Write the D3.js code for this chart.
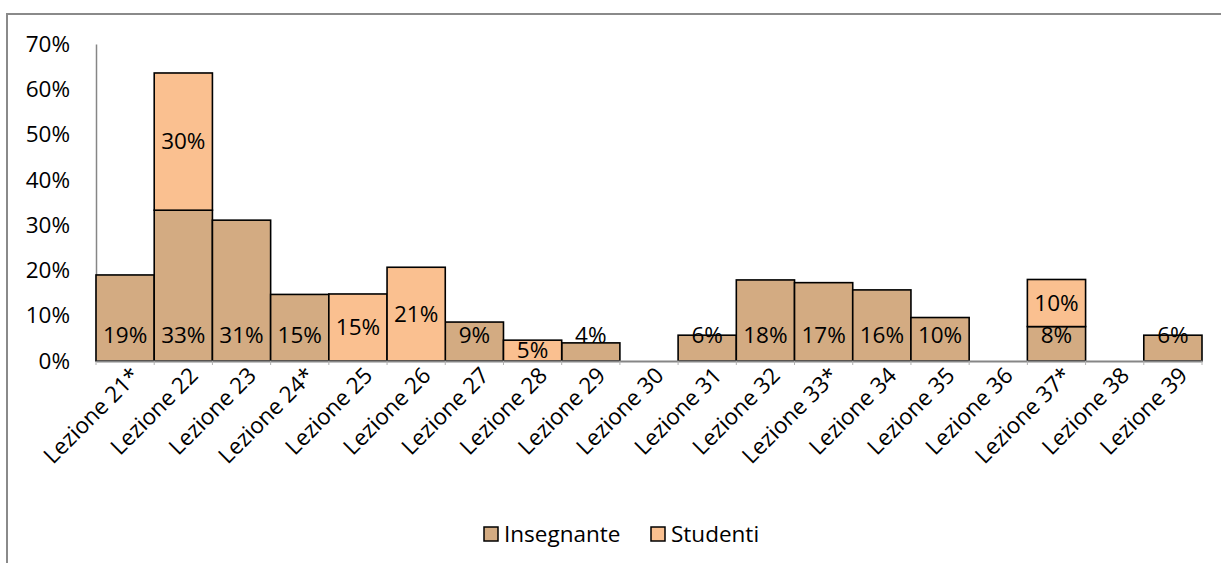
<!DOCTYPE html>
<html>
<head>
<meta charset="utf-8">
<script src="https://cdn.jsdelivr.net/npm/d3@7"></script>
<style>
  html, body { margin: 0; padding: 0; background: #fff; }
  svg { display: block; }
  text { font-family: "Open Sans", "Noto Sans", sans-serif; fill: #000; }
</style>
</head>
<body>
<svg id="chart" width="1221" height="563"></svg>
<script>
// Lessons on the x axis
const categories = ["Lezione 21*", "Lezione 22", "Lezione 23", "Lezione 24*", "Lezione 25",
  "Lezione 26", "Lezione 27", "Lezione 28", "Lezione 29", "Lezione 30", "Lezione 31",
  "Lezione 32", "Lezione 33*", "Lezione 34", "Lezione 35", "Lezione 36", "Lezione 37*",
  "Lezione 38", "Lezione 39"];

// Share of talk time per lesson (fractions); null = no value
const insegnante = [0.19, 0.333, 0.311, 0.147, null, null, 0.086, null, 0.04, null, 0.057,
  0.179, 0.173, 0.157, 0.096, null, 0.076, null, 0.057];
const studenti = [null, 0.303, null, null, 0.148, 0.207, null, 0.046, null, null, null,
  null, null, null, null, null, 0.104, null, null];

const yTicks = [0, 0.1, 0.2, 0.3, 0.4, 0.5, 0.6, 0.7];
const seriesNames = ["Insegnante", "Studenti"];
const colors = ["#D3AB82", "#FAC090"];

const svg = d3.select("#chart");
const fmt = d3.format(".0%");
const FS = 22.5;

// outer chart frame
svg.append("rect")
  .attr("x", 7).attr("y", 14).attr("width", 1240).attr("height", 600)
  .attr("fill", "none").attr("stroke", "#8a8a8a").attr("stroke-width", 2);

const x = d3.scaleBand().domain(categories).range([96, 1202]).padding(0);
const y = d3.scaleLinear().domain([0, 0.7]).range([361, 44]);

// y axis
const yAxis = svg.append("g").attr("transform", "translate(96,0)")
  .call(d3.axisLeft(y).tickValues(yTicks).tickFormat(fmt).tickSize(0).tickPadding(26));
yAxis.select(".domain").attr("stroke", "#868686").attr("stroke-width", 1.5);
yAxis.selectAll("text").attr("font-size", FS).attr("font-family", "Open Sans");

// stacked data
const rows = categories.map((c, i) => ({ cat: c, Insegnante: insegnante[i] || 0, Studenti: studenti[i] || 0 }));
const stack = d3.stack().keys(seriesNames)(rows);

stack.forEach((layer, k) => {
  svg.append("g").selectAll("rect")
    .data(layer.filter(d => d[1] - d[0] > 0))
    .join("rect")
    .attr("x", d => x(d.data.cat))
    .attr("width", x.bandwidth())
    .attr("y", d => y(d[1]))
    .attr("height", d => y(d[0]) - y(d[1]))
    .attr("fill", colors[k])
    .attr("stroke", "#000")
    .attr("stroke-width", 1.6);
});

// x axis baseline and category ticks
const xAxis = svg.append("g").attr("transform", `translate(0,${y(0)})`)
  .call(d3.axisBottom(x).tickSize(0).tickFormat(""));
xAxis.select(".domain").attr("stroke", "#868686").attr("stroke-width", 2.2);
svg.append("g").selectAll("line")
  .data(d3.range(categories.length + 1))
  .join("line")
  .attr("x1", i => 96 + i * x.bandwidth()).attr("x2", i => 96 + i * x.bandwidth())
  .attr("y1", y(0)).attr("y2", y(0) + 4)
  .attr("stroke", "#b0b0b0").attr("stroke-width", 1);

// rotated category labels
svg.append("g").selectAll("text")
  .data(categories)
  .join("text")
  .attr("transform", d => `translate(${x(d) + x.bandwidth() / 2 + 16},${y(0) + 16}) rotate(-45)`)
  .attr("text-anchor", "end")
  .attr("font-size", FS)
  .text(d => d);

// value labels: teacher share sits near the base, student share centred in its segment
const labels = svg.append("g").attr("font-size", FS).attr("text-anchor", "middle");
stack[0].filter(d => d[1] - d[0] > 0).forEach(d => {
  labels.append("text")
    .attr("x", x(d.data.cat) + x.bandwidth() / 2)
    .attr("y", y(0) - 26)
    .attr("dy", "0.35em")
    .text(fmt(d[1] - d[0]));
});
stack[1].filter(d => d[1] - d[0] > 0).forEach(d => {
  labels.append("text")
    .attr("x", x(d.data.cat) + x.bandwidth() / 2)
    .attr("y", (y(d[0]) + y(d[1])) / 2)
    .attr("dy", "0.35em")
    .text(fmt(d[1] - d[0]));
});

// legend
const legendItems = [{ name: "Insegnante", x: 483 }, { name: "Studenti", x: 650 }];
const lg = svg.append("g");
legendItems.forEach((it, i) => {
  lg.append("rect").attr("x", it.x + 1).attr("y", 527).attr("width", 14).attr("height", 14)
    .attr("fill", colors[i]).attr("stroke", "#000").attr("stroke-width", 1.5);
  lg.append("text").attr("x", it.x + 21).attr("y", 534).attr("dy", "0.35em")
    .attr("font-size", FS).text(it.name);
});
</script>
</body>
</html>
